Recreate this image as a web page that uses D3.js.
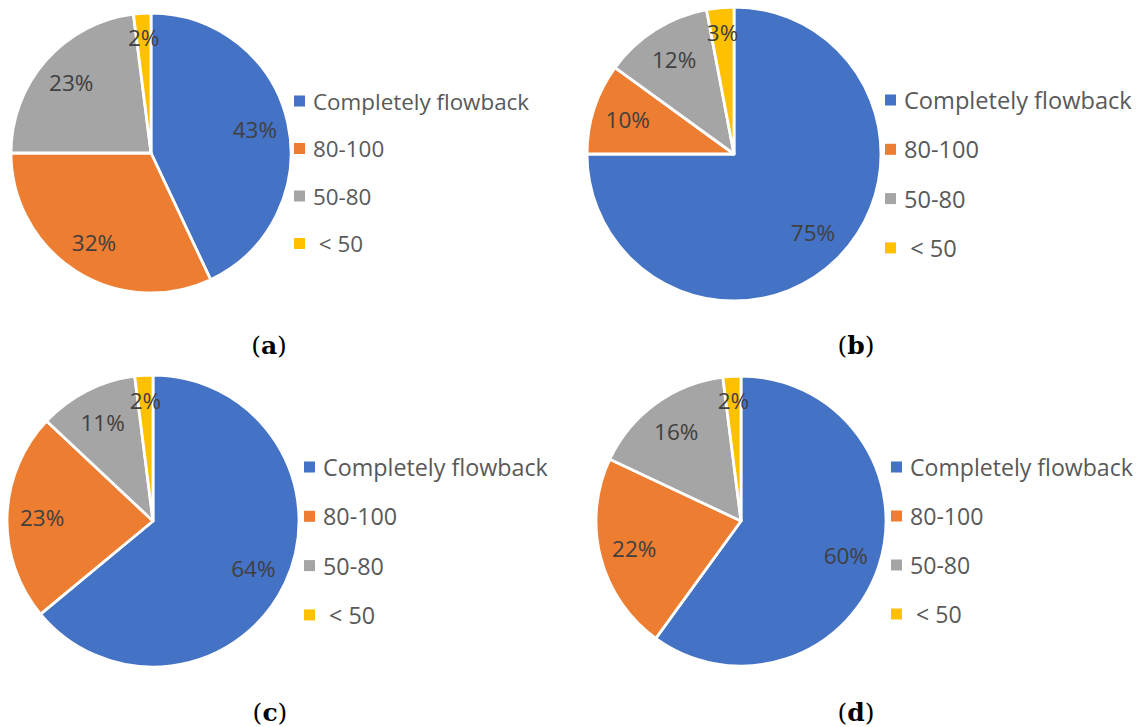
<!DOCTYPE html>
<html>
<head>
<meta charset="utf-8">
<script src="https://cdn.jsdelivr.net/npm/d3@7"></script>
<style>
  html, body { margin: 0; padding: 0; background: #fff; }
  svg { display: block; }
</style>
</head>
<body>
<svg id="chart" width="1140" height="727"></svg>
<script>
// Flowback categories shared by all four pies
const categories = ["Completely flowback", "80-100", "50-80", " < 50"];
const colors = ["#4472C4", "#ED7D31", "#A5A5A5", "#FFC000"];

// Share of wells (%) in each category, one array per panel
const valuesA = [43, 32, 23, 2];
const valuesB = [75, 10, 12, 3];
const valuesC = [64, 23, 11, 2];
const valuesD = [60, 22, 16, 2];

const panelLetters = ["a", "b", "c", "d"];

// Layout of the four panels (centre, radius, legend and caption placement)
const layout = [
  { cx: 151, cy: 153, r: 140, legX: 294, legY: 101, legStep: 47.5, legFont: 22.4, capX: 269, capY: 345 },
  { cx: 734, cy: 154, r: 147, legX: 885, legY: 100, legStep: 49.3, legFont: 23.6, capX: 856, capY: 345 },
  { cx: 153, cy: 521, r: 146, legX: 304, legY: 467, legStep: 49.3, legFont: 23.3, capX: 270, capY: 712 },
  { cx: 741, cy: 521, r: 145, legX: 891, legY: 467, legStep: 49,   legFont: 23.1, capX: 856, capY: 712 }
];

const panelValues = [valuesA, valuesB, valuesC, valuesD];

const svg = d3.select("#chart");
const color = d3.scaleOrdinal().domain(categories).range(colors);

const pie = d3.pie()
  .value(d => d.value)
  .sort(null)
  .startAngle(0)
  .endAngle(2 * Math.PI);

panelValues.forEach((vals, i) => {
  const L = layout[i];
  const data = categories.map((c, k) => ({ category: c, value: vals[k] }));
  const arcs = pie(data);

  const g = svg.append("g").attr("transform", `translate(${L.cx},${L.cy})`);

  const arc = d3.arc().innerRadius(0).outerRadius(L.r);

  g.selectAll("path.slice")
    .data(arcs)
    .join("path")
    .attr("class", "slice")
    .attr("d", arc)
    .attr("fill", d => color(d.data.category))
    .attr("stroke", "#fff")
    .attr("stroke-width", 2.8)
    .attr("stroke-linejoin", "round");

  // Percentage labels inside each slice; thin slices get pushed further out
  g.selectAll("text.pct")
    .data(arcs)
    .join("text")
    .attr("class", "pct")
    .attr("transform", d => {
      const f = d.data.value < 5 ? 0.83 : 0.76;
      const la = d3.arc().innerRadius(L.r * f).outerRadius(L.r * f);
      const [x, y] = la.centroid(d);
      return `translate(${x},${y})`;
    })
    .attr("text-anchor", "middle")
    .attr("dominant-baseline", "central")
    .attr("font-family", "'Open Sans', sans-serif")
    .attr("font-size", 22.5)
    .attr("fill", "#404040")
    .text(d => d.data.value + "%");

  // Legend
  const leg = svg.append("g").attr("transform", `translate(${L.legX},${L.legY})`);
  const rows = leg.selectAll("g.row")
    .data(categories)
    .join("g")
    .attr("class", "row")
    .attr("transform", (d, k) => `translate(0,${k * L.legStep})`);

  rows.append("rect")
    .attr("x", 0).attr("y", -5.5)
    .attr("width", 11).attr("height", 11)
    .attr("fill", d => color(d));

  rows.append("text")
    .attr("x", 19)
    .attr("y", 0)
    .attr("dominant-baseline", "central")
    .attr("font-family", "'Open Sans', sans-serif")
    .attr("font-size", L.legFont)
    .attr("fill", "#595959")
    .style("white-space", "pre")
    .text(d => d);

  // Panel caption, e.g. (a)
  const cap = svg.append("text")
    .attr("x", L.capX)
    .attr("y", L.capY)
    .attr("text-anchor", "middle")
    .attr("dominant-baseline", "central")
    .attr("font-family", "'DejaVu Serif', 'Liberation Serif', serif")
    .attr("font-size", 25)
    .attr("fill", "#000");
  cap.append("tspan").text("(");
  cap.append("tspan").attr("font-weight", "bold").text(panelLetters[i]);
  cap.append("tspan").text(")");
});
</script>
</body>
</html>
